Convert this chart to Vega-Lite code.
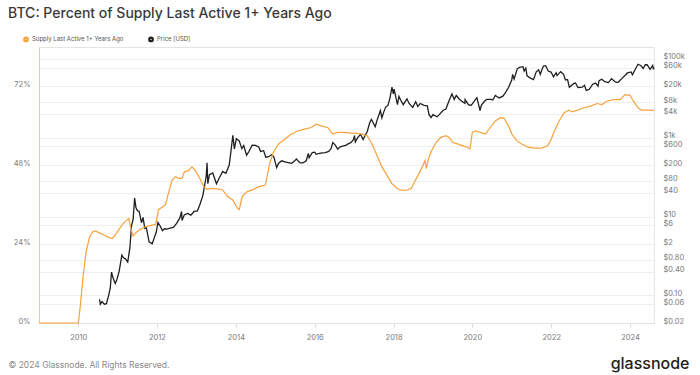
{
  "$schema": "https://vega.github.io/schema/vega-lite/v6.json",
  "autosize": {"type": "none"},
  "width": 615,
  "height": 276,
  "padding": {"left": 39, "top": 47, "right": 46, "bottom": 52},
  "background": "white",
  "config": {
    "font": "Inter",
    "view": {"stroke": "#e4e4e4", "strokeWidth": 1},
    "axis": {"labelFont": "Inter", "labelFontSize": 7.5, "labelColor": "#7a7a7a", "titleFont": "Inter"},
    "legend": {"labelFont": "Inter"}
  },
  "title": {
    "text": "BTC: Percent of Supply Last Active 1+ Years Ago",
    "anchor": "start",
    "frame": "group",
    "dx": -31,
    "offset": 15,
    "fontSize": 14,
    "fontWeight": 500,
    "color": "#3a3a3a",
    "font": "Inter"
  },
  "datasets": {
    "supply": [
      {"d": "2009-01-03", "v": 0},
      {"d": "2010-01-03", "v": 0},
      {"d": "2010-01-20", "v": 5},
      {"d": "2010-02-15", "v": 14},
      {"d": "2010-03-15", "v": 21.5},
      {"d": "2010-04-15", "v": 26},
      {"d": "2010-05-15", "v": 27.8},
      {"d": "2010-06-10", "v": 28},
      {"d": "2010-07-10", "v": 27.5},
      {"d": "2010-08-15", "v": 27},
      {"d": "2010-09-15", "v": 26.5},
      {"d": "2010-10-15", "v": 26},
      {"d": "2010-11-15", "v": 25.8},
      {"d": "2010-12-15", "v": 27},
      {"d": "2011-01-15", "v": 28.5},
      {"d": "2011-02-15", "v": 30},
      {"d": "2011-03-15", "v": 31},
      {"d": "2011-04-15", "v": 31.8},
      {"d": "2011-05-10", "v": 28},
      {"d": "2011-05-25", "v": 26.5},
      {"d": "2011-06-20", "v": 27.5},
      {"d": "2011-08-01", "v": 28.5},
      {"d": "2011-09-15", "v": 29.3},
      {"d": "2011-11-15", "v": 29.8},
      {"d": "2011-12-20", "v": 30},
      {"d": "2012-01-15", "v": 34.5},
      {"d": "2012-02-20", "v": 35.3},
      {"d": "2012-03-20", "v": 36},
      {"d": "2012-04-20", "v": 40},
      {"d": "2012-05-20", "v": 43.5},
      {"d": "2012-06-20", "v": 44.5},
      {"d": "2012-07-20", "v": 44},
      {"d": "2012-08-20", "v": 44},
      {"d": "2012-09-10", "v": 46},
      {"d": "2012-10-15", "v": 46.3},
      {"d": "2012-11-20", "v": 47.5},
      {"d": "2012-12-20", "v": 46.5},
      {"d": "2013-02-01", "v": 44},
      {"d": "2013-03-10", "v": 41.5},
      {"d": "2013-04-10", "v": 40.7},
      {"d": "2013-06-01", "v": 41},
      {"d": "2013-07-15", "v": 40.8},
      {"d": "2013-09-01", "v": 40.5},
      {"d": "2013-10-15", "v": 38.5},
      {"d": "2013-12-01", "v": 37.5},
      {"d": "2014-01-15", "v": 35},
      {"d": "2014-02-01", "v": 34.5},
      {"d": "2014-03-01", "v": 38.5},
      {"d": "2014-04-15", "v": 40},
      {"d": "2014-06-01", "v": 40.5},
      {"d": "2014-08-01", "v": 41.5},
      {"d": "2014-10-01", "v": 42},
      {"d": "2014-11-10", "v": 48.5},
      {"d": "2014-12-15", "v": 52},
      {"d": "2015-02-01", "v": 54.5},
      {"d": "2015-04-01", "v": 56},
      {"d": "2015-06-01", "v": 57.5},
      {"d": "2015-08-01", "v": 58.5},
      {"d": "2015-10-01", "v": 59},
      {"d": "2015-12-01", "v": 59.5},
      {"d": "2016-01-15", "v": 60.5},
      {"d": "2016-03-01", "v": 60},
      {"d": "2016-05-01", "v": 59.5},
      {"d": "2016-06-15", "v": 57.5},
      {"d": "2016-08-01", "v": 58},
      {"d": "2016-10-01", "v": 58},
      {"d": "2016-12-01", "v": 57.8},
      {"d": "2017-01-15", "v": 57.8},
      {"d": "2017-03-15", "v": 57.5},
      {"d": "2017-05-01", "v": 57},
      {"d": "2017-06-15", "v": 54.5},
      {"d": "2017-08-01", "v": 51},
      {"d": "2017-09-15", "v": 47.5},
      {"d": "2017-11-01", "v": 45},
      {"d": "2017-12-15", "v": 42.5},
      {"d": "2018-02-01", "v": 41},
      {"d": "2018-03-15", "v": 40.4},
      {"d": "2018-05-01", "v": 40.4},
      {"d": "2018-06-15", "v": 41},
      {"d": "2018-07-15", "v": 43},
      {"d": "2018-09-01", "v": 46},
      {"d": "2018-10-01", "v": 48},
      {"d": "2018-10-20", "v": 49.5},
      {"d": "2018-11-01", "v": 47},
      {"d": "2018-11-20", "v": 50},
      {"d": "2018-12-20", "v": 52.5},
      {"d": "2019-02-01", "v": 55},
      {"d": "2019-03-15", "v": 56.5},
      {"d": "2019-05-01", "v": 57},
      {"d": "2019-06-01", "v": 56.5},
      {"d": "2019-07-01", "v": 55},
      {"d": "2019-08-15", "v": 54.5},
      {"d": "2019-10-01", "v": 54},
      {"d": "2019-11-15", "v": 53.5},
      {"d": "2019-12-10", "v": 53},
      {"d": "2020-01-01", "v": 58},
      {"d": "2020-02-01", "v": 58.5},
      {"d": "2020-03-15", "v": 58},
      {"d": "2020-05-01", "v": 57.5},
      {"d": "2020-06-15", "v": 59.5},
      {"d": "2020-08-01", "v": 61.5},
      {"d": "2020-09-15", "v": 62.5},
      {"d": "2020-10-20", "v": 62.3},
      {"d": "2020-12-01", "v": 60},
      {"d": "2021-01-01", "v": 57.5},
      {"d": "2021-02-15", "v": 55.5},
      {"d": "2021-04-01", "v": 54.5},
      {"d": "2021-06-01", "v": 53.5},
      {"d": "2021-08-01", "v": 53.2},
      {"d": "2021-10-01", "v": 53.2},
      {"d": "2021-12-01", "v": 54},
      {"d": "2022-01-01", "v": 56},
      {"d": "2022-02-01", "v": 58.5},
      {"d": "2022-03-15", "v": 61.5},
      {"d": "2022-05-01", "v": 64},
      {"d": "2022-06-15", "v": 64.8},
      {"d": "2022-07-15", "v": 64.3},
      {"d": "2022-09-01", "v": 64.8},
      {"d": "2022-11-01", "v": 65.5},
      {"d": "2023-01-01", "v": 66},
      {"d": "2023-03-01", "v": 66.8},
      {"d": "2023-04-15", "v": 66.5},
      {"d": "2023-06-01", "v": 67.5},
      {"d": "2023-08-01", "v": 68},
      {"d": "2023-10-01", "v": 68},
      {"d": "2023-11-15", "v": 69.5},
      {"d": "2024-01-01", "v": 69.3},
      {"d": "2024-02-01", "v": 67.5},
      {"d": "2024-03-15", "v": 65.5},
      {"d": "2024-04-15", "v": 64.8},
      {"d": "2024-06-01", "v": 64.8},
      {"d": "2024-08-10", "v": 64.7}
    ],
    "price": [
      {"d": "2010-07-18", "p": 0.08},
      {"d": "2010-07-25", "p": 0.06},
      {"d": "2010-08-10", "p": 0.07},
      {"d": "2010-09-01", "p": 0.06},
      {"d": "2010-09-20", "p": 0.062},
      {"d": "2010-10-10", "p": 0.1},
      {"d": "2010-10-25", "p": 0.15},
      {"d": "2010-11-06", "p": 0.39},
      {"d": "2010-11-20", "p": 0.28},
      {"d": "2010-12-10", "p": 0.2},
      {"d": "2010-12-25", "p": 0.25},
      {"d": "2011-01-15", "p": 0.4},
      {"d": "2011-02-10", "p": 1.05},
      {"d": "2011-02-25", "p": 0.9},
      {"d": "2011-03-15", "p": 0.85},
      {"d": "2011-04-05", "p": 0.7},
      {"d": "2011-04-25", "p": 1.6},
      {"d": "2011-05-10", "p": 5.8},
      {"d": "2011-05-25", "p": 8.5},
      {"d": "2011-06-08", "p": 29.6},
      {"d": "2011-06-20", "p": 17},
      {"d": "2011-07-05", "p": 14},
      {"d": "2011-07-20", "p": 13.7},
      {"d": "2011-08-10", "p": 7},
      {"d": "2011-08-25", "p": 9.5},
      {"d": "2011-09-10", "p": 5},
      {"d": "2011-09-25", "p": 5.2},
      {"d": "2011-10-20", "p": 2.3},
      {"d": "2011-11-18", "p": 2.05},
      {"d": "2011-12-05", "p": 2.8},
      {"d": "2011-12-25", "p": 4},
      {"d": "2012-01-10", "p": 7.1},
      {"d": "2012-02-01", "p": 5.7},
      {"d": "2012-02-20", "p": 4.4},
      {"d": "2012-03-10", "p": 4.9},
      {"d": "2012-04-01", "p": 4.8},
      {"d": "2012-05-01", "p": 5.1},
      {"d": "2012-06-01", "p": 5.3},
      {"d": "2012-07-01", "p": 6.7},
      {"d": "2012-08-01", "p": 9.4},
      {"d": "2012-08-16", "p": 13.5},
      {"d": "2012-08-20", "p": 8},
      {"d": "2012-09-10", "p": 11},
      {"d": "2012-10-10", "p": 12},
      {"d": "2012-11-10", "p": 10.9},
      {"d": "2012-12-10", "p": 13.5},
      {"d": "2013-01-10", "p": 14},
      {"d": "2013-02-01", "p": 20},
      {"d": "2013-03-01", "p": 34},
      {"d": "2013-04-01", "p": 104},
      {"d": "2013-04-09", "p": 230},
      {"d": "2013-04-16", "p": 68},
      {"d": "2013-05-01", "p": 116},
      {"d": "2013-06-01", "p": 128},
      {"d": "2013-07-05", "p": 68},
      {"d": "2013-08-01", "p": 97},
      {"d": "2013-09-01", "p": 140},
      {"d": "2013-10-01", "p": 125},
      {"d": "2013-11-01", "p": 205},
      {"d": "2013-11-20", "p": 550},
      {"d": "2013-12-04", "p": 1150},
      {"d": "2013-12-18", "p": 520},
      {"d": "2014-01-05", "p": 950},
      {"d": "2014-02-01", "p": 830},
      {"d": "2014-02-25", "p": 530},
      {"d": "2014-03-15", "p": 630},
      {"d": "2014-04-10", "p": 360},
      {"d": "2014-05-01", "p": 440},
      {"d": "2014-06-01", "p": 650},
      {"d": "2014-07-01", "p": 640},
      {"d": "2014-08-01", "p": 585},
      {"d": "2014-08-18", "p": 450},
      {"d": "2014-09-15", "p": 470},
      {"d": "2014-10-05", "p": 320},
      {"d": "2014-11-01", "p": 330},
      {"d": "2014-12-01", "p": 375},
      {"d": "2014-12-20", "p": 320},
      {"d": "2015-01-14", "p": 175},
      {"d": "2015-02-01", "p": 225},
      {"d": "2015-03-01", "p": 260},
      {"d": "2015-04-01", "p": 245},
      {"d": "2015-05-01", "p": 235},
      {"d": "2015-06-01", "p": 225},
      {"d": "2015-07-01", "p": 260},
      {"d": "2015-07-15", "p": 290},
      {"d": "2015-08-20", "p": 230},
      {"d": "2015-09-15", "p": 230},
      {"d": "2015-10-15", "p": 260},
      {"d": "2015-11-04", "p": 400},
      {"d": "2015-11-11", "p": 310},
      {"d": "2015-12-10", "p": 420},
      {"d": "2016-01-01", "p": 432},
      {"d": "2016-01-15", "p": 380},
      {"d": "2016-02-15", "p": 400},
      {"d": "2016-03-10", "p": 415},
      {"d": "2016-04-10", "p": 420},
      {"d": "2016-05-10", "p": 450},
      {"d": "2016-06-01", "p": 530},
      {"d": "2016-06-17", "p": 760},
      {"d": "2016-07-10", "p": 650},
      {"d": "2016-08-02", "p": 515},
      {"d": "2016-08-20", "p": 580},
      {"d": "2016-09-15", "p": 610},
      {"d": "2016-10-15", "p": 640},
      {"d": "2016-11-10", "p": 710},
      {"d": "2016-12-01", "p": 750},
      {"d": "2016-12-25", "p": 890},
      {"d": "2017-01-04", "p": 1130},
      {"d": "2017-01-12", "p": 780},
      {"d": "2017-02-01", "p": 990},
      {"d": "2017-03-01", "p": 1220},
      {"d": "2017-03-25", "p": 900},
      {"d": "2017-04-15", "p": 1180},
      {"d": "2017-05-01", "p": 1400},
      {"d": "2017-05-25", "p": 2400},
      {"d": "2017-06-10", "p": 2900},
      {"d": "2017-07-15", "p": 1900},
      {"d": "2017-08-01", "p": 2750},
      {"d": "2017-09-01", "p": 4900},
      {"d": "2017-09-15", "p": 3200},
      {"d": "2017-10-01", "p": 4400},
      {"d": "2017-10-20", "p": 6000},
      {"d": "2017-11-10", "p": 6600},
      {"d": "2017-11-28", "p": 10000},
      {"d": "2017-12-17", "p": 19300},
      {"d": "2017-12-30", "p": 13000},
      {"d": "2018-01-06", "p": 17000},
      {"d": "2018-02-06", "p": 6900},
      {"d": "2018-02-20", "p": 11200},
      {"d": "2018-03-10", "p": 8800},
      {"d": "2018-04-01", "p": 6900},
      {"d": "2018-05-05", "p": 9700},
      {"d": "2018-05-25", "p": 7400},
      {"d": "2018-06-28", "p": 5900},
      {"d": "2018-07-25", "p": 8200},
      {"d": "2018-08-14", "p": 6200},
      {"d": "2018-09-05", "p": 7400},
      {"d": "2018-10-10", "p": 6600},
      {"d": "2018-11-10", "p": 6400},
      {"d": "2018-11-25", "p": 3900},
      {"d": "2018-12-15", "p": 3250},
      {"d": "2019-01-01", "p": 3850},
      {"d": "2019-02-07", "p": 3400},
      {"d": "2019-03-01", "p": 3850},
      {"d": "2019-04-03", "p": 4900},
      {"d": "2019-05-01", "p": 5350},
      {"d": "2019-05-30", "p": 8700},
      {"d": "2019-06-26", "p": 12900},
      {"d": "2019-07-17", "p": 9400},
      {"d": "2019-08-05", "p": 11800},
      {"d": "2019-09-01", "p": 9600},
      {"d": "2019-09-25", "p": 8450},
      {"d": "2019-10-24", "p": 7450},
      {"d": "2019-10-26", "p": 9250},
      {"d": "2019-11-25", "p": 6900},
      {"d": "2019-12-18", "p": 6600},
      {"d": "2020-01-01", "p": 7200},
      {"d": "2020-02-12", "p": 10350},
      {"d": "2020-03-12", "p": 4900},
      {"d": "2020-03-25", "p": 6700},
      {"d": "2020-04-29", "p": 8800},
      {"d": "2020-05-15", "p": 9400},
      {"d": "2020-06-15", "p": 9400},
      {"d": "2020-07-10", "p": 9200},
      {"d": "2020-08-01", "p": 11800},
      {"d": "2020-09-05", "p": 10200},
      {"d": "2020-10-10", "p": 11300},
      {"d": "2020-11-01", "p": 13800},
      {"d": "2020-12-01", "p": 18800},
      {"d": "2020-12-31", "p": 29000},
      {"d": "2021-01-08", "p": 40500},
      {"d": "2021-01-22", "p": 30800},
      {"d": "2021-02-20", "p": 56000},
      {"d": "2021-03-13", "p": 61000},
      {"d": "2021-04-14", "p": 63500},
      {"d": "2021-04-25", "p": 49000},
      {"d": "2021-05-10", "p": 58000},
      {"d": "2021-05-22", "p": 37300},
      {"d": "2021-06-22", "p": 32500},
      {"d": "2021-07-20", "p": 29800},
      {"d": "2021-08-15", "p": 47000},
      {"d": "2021-09-06", "p": 52700},
      {"d": "2021-09-21", "p": 40700},
      {"d": "2021-10-20", "p": 66000},
      {"d": "2021-11-10", "p": 67500},
      {"d": "2021-12-04", "p": 49000},
      {"d": "2021-12-30", "p": 46300},
      {"d": "2022-01-22", "p": 35000},
      {"d": "2022-02-15", "p": 44500},
      {"d": "2022-02-24", "p": 37700},
      {"d": "2022-03-29", "p": 47400},
      {"d": "2022-04-25", "p": 40400},
      {"d": "2022-05-12", "p": 29000},
      {"d": "2022-06-01", "p": 30000},
      {"d": "2022-06-18", "p": 19000},
      {"d": "2022-07-30", "p": 23800},
      {"d": "2022-08-14", "p": 24400},
      {"d": "2022-09-06", "p": 18800},
      {"d": "2022-10-15", "p": 19100},
      {"d": "2022-11-05", "p": 21300},
      {"d": "2022-11-21", "p": 15800},
      {"d": "2022-12-20", "p": 16900},
      {"d": "2023-01-20", "p": 22700},
      {"d": "2023-02-16", "p": 24300},
      {"d": "2023-03-10", "p": 20200},
      {"d": "2023-03-20", "p": 28000},
      {"d": "2023-04-14", "p": 30400},
      {"d": "2023-05-12", "p": 26300},
      {"d": "2023-06-15", "p": 25100},
      {"d": "2023-07-13", "p": 31400},
      {"d": "2023-08-18", "p": 26000},
      {"d": "2023-09-11", "p": 25100},
      {"d": "2023-10-23", "p": 33000},
      {"d": "2023-11-15", "p": 37800},
      {"d": "2023-12-08", "p": 44000},
      {"d": "2024-01-11", "p": 46600},
      {"d": "2024-01-23", "p": 39500},
      {"d": "2024-02-15", "p": 52000},
      {"d": "2024-03-14", "p": 73000},
      {"d": "2024-04-12", "p": 67000},
      {"d": "2024-05-01", "p": 57000},
      {"d": "2024-05-21", "p": 71500},
      {"d": "2024-06-07", "p": 71000},
      {"d": "2024-07-05", "p": 54000},
      {"d": "2024-07-29", "p": 68000},
      {"d": "2024-08-05", "p": 54000},
      {"d": "2024-08-10", "p": 60900}
    ]
  },
  "layer": [
    {
      "data": {"name": "price"},
      "mark": {"type": "line", "strokeWidth": 1.3, "interpolate": "linear"},
      "encoding": {
        "x": {
          "field": "d", "type": "temporal",
          "scale": {"domain": [{"year": 2009, "month": 1, "date": 3, "utc": true}, {"year": 2024, "month": 8, "date": 10, "utc": true}]},
          "axis": {
            "values": [{"year": 2010, "utc": true}, {"year": 2012, "utc": true}, {"year": 2014, "utc": true}, {"year": 2016, "utc": true}, {"year": 2018, "utc": true}, {"year": 2020, "utc": true}, {"year": 2022, "utc": true}, {"year": 2024, "utc": true}],
            "labelExpr": "utcFormat(datum.value, '%Y')",
            "grid": false,
            "domainColor": "#e4e4e4",
            "tickColor": "#dddddd",
            "tickSize": 4,
            "labelPadding": 6,
            "title": "glassnode",
            "titleFontSize": 16,
            "titleFontWeight": 500,
            "titleColor": "#222222",
            "titleAlign": "right",
            "titleAnchor": null,
            "titleBaseline": "middle",
            "titleX": 650,
            "titleY": 40
          }
        },
        "y": {
          "field": "p", "type": "quantitative",
          "scale": {"type": "log", "domain": [0.02, 200000], "nice": false},
          "axis": {
            "orient": "right",
            "values": [0.02, 0.06, 0.1, 0.4, 0.8, 2, 6, 10, 40, 80, 200, 600, 1000, 4000, 8000, 20000, 60000, 100000],
            "labelExpr": "datum.value >= 1000 ? '$' + format(datum.value / 1000, 'd') + 'k' : (datum.value >= 1 ? '$' + format(datum.value, 'd') : '$' + format(datum.value, '.2f'))",
            "grid": true,
            "gridColor": "#efefef",
            "ticks": false,
            "domainColor": "#e4e4e4",
            "labelBaseline": "alphabetic",
            "labelPadding": 9,
            "labelAlign": "left",
            "title": null
          }
        },
        "color": {
          "datum": "Price [USD]",
          "scale": {"domain": ["Supply Last Active 1+ Years Ago", "Price [USD]"], "range": ["#f7a23a", "#1f1f1f"]},
          "legend": {
            "orient": "none",
            "legendX": -16,
            "legendY": -11,
            "direction": "horizontal",
            "title": null,
            "symbolType": "circle",
            "symbolSize": 5,
            "symbolStrokeWidth": 3.5,
            "labelFontSize": 6,
            "labelColor": "#555555",
            "columnPadding": 18,
            "labelOffset": 3
          }
        }
      }
    },
    {
      "data": {"name": "supply"},
      "mark": {"type": "line", "strokeWidth": 1.2, "interpolate": "linear"},
      "encoding": {
        "x": {"field": "d", "type": "temporal"},
        "y": {
          "field": "v", "type": "quantitative",
          "scale": {"domain": [0, 84], "nice": false},
          "axis": {
            "orient": "left",
            "values": [0, 24, 48, 72],
            "labelExpr": "datum.value + '%'",
            "grid": false,
            "ticks": false,
            "domainColor": "#f8c890",
            "labelBaseline": "alphabetic",
            "labelPadding": 9,
            "title": "© 2024 Glassnode. All Rights Reserved.",
            "titleAngle": 0,
            "titleFontSize": 8.5,
            "titleFontWeight": "normal",
            "titleColor": "#8a8a8a",
            "titleAlign": "left",
            "titleAnchor": null,
            "titleBaseline": "middle",
            "titleX": -31,
            "titleY": 317
          }
        },
        "color": {"datum": "Supply Last Active 1+ Years Ago"}
      }
    }
  ],
  "resolve": {"scale": {"y": "independent"}}
}
